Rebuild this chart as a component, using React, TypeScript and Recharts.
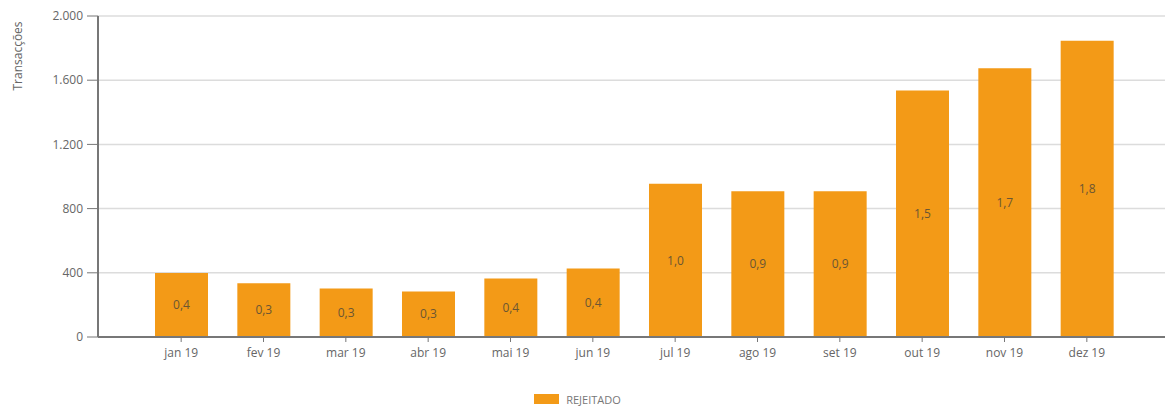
import React from "react";
import { BarChart, Bar, XAxis, YAxis, CartesianGrid, LabelList, Legend } from "recharts";

const months = ["jan 19", "fev 19", "mar 19", "abr 19", "mai 19", "jun 19", "jul 19", "ago 19", "set 19", "out 19", "nov 19", "dez 19"];
const rejeitado = [398, 335, 302, 284, 364, 427, 955, 908, 908, 1536, 1675, 1846];
const yTicks = [0, 400, 800, 1200, 1600, 2000];

const data = months.map((m, i) => ({ month: m, rejeitado: rejeitado[i] }));

const fmtY = (v: number) => v.toLocaleString("de-DE");
const fmtLabel = (v: any) => (Number(v) / 1000).toFixed(1).replace(".", ",");

const LegendContent = () => (
  <div style={{ display: "flex", justifyContent: "center", alignItems: "center", fontFamily: "Open Sans, sans-serif", fontSize: 11, color: "#777", height: 12, marginLeft: -10 }}>
    <span style={{ display: "inline-block", width: 25, height: 10, background: "#F39A17", marginRight: 7 }} />
    <span>REJEITADO</span>
  </div>
);

export default function App() {
  return (
    <div style={{ position: "absolute", left: 0, top: 0, background: "#fff" }}>
      <BarChart width={1165} height={407} data={data} margin={{ top: 16, right: 0, bottom: 28, left: 0 }}>
        <CartesianGrid vertical={false} stroke="#dcdcdc" strokeWidth={1.5} />
        <XAxis
          dataKey="month"
          padding={{ left: 42, right: 37 }}
          axisLine={{ stroke: "#777", strokeWidth: 2 }}
          tickLine={{ stroke: "#777" }}
          tickSize={5}
          tick={{ fill: "#666", fontSize: 12, fontFamily: "Open Sans, sans-serif" }}
          tickMargin={6}
          interval={0}
        />
        <YAxis
          width={98}
          domain={[0, 2000]}
          ticks={yTicks}
          tickFormatter={fmtY}
          axisLine={{ stroke: "#777", strokeWidth: 2 }}
          tickLine={{ stroke: "#777" }}
          tickSize={11}
          tickMargin={4}
          tick={{ fill: "#666", fontSize: 12, fontFamily: "Open Sans, sans-serif" }}
          label={{ value: "Transacções", angle: -90, position: "insideTopLeft", dx: 8, dy: 35, fill: "#666", fontSize: 12, fontFamily: "Open Sans, sans-serif", textAnchor: "middle" }}
        />
        <Legend verticalAlign="bottom" align="center" wrapperStyle={{ position: "absolute", bottom: 2, left: 0, width: 1165, height: 12 }} content={<LegendContent />} />
        <Bar dataKey="rejeitado" name="REJEITADO" fill="#F39A17" barSize={53} isAnimationActive={false}>
          <LabelList dataKey="rejeitado" position="center" formatter={fmtLabel} fill="#6b5633" fontSize={12} fontFamily="Open Sans, sans-serif" />
        </Bar>
      </BarChart>
    </div>
  );
}
